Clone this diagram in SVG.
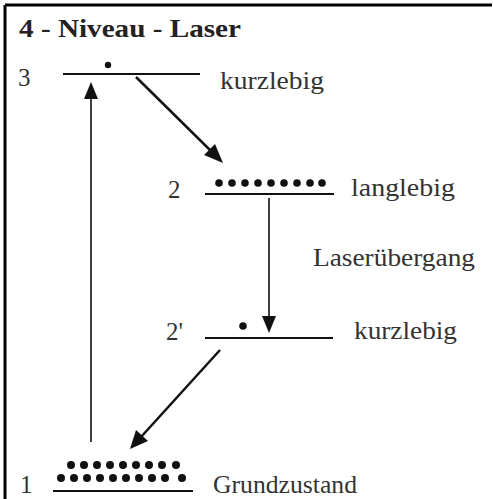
<svg xmlns="http://www.w3.org/2000/svg" width="493" height="499" viewBox="0 0 493 499">
  <style>
    .t { font-family: "Liberation Serif", "Times New Roman", serif; font-size: 26px; fill: #333; }
    .num { font-family: "Liberation Serif", "Times New Roman", serif; font-size: 25px; fill: #333; }
    .title { font-family: "Liberation Serif", "Times New Roman", serif; font-size: 26px; font-weight: bold; fill: #222; }
    .lvl { stroke: #111; stroke-width: 2.2; }
    .conn { stroke: #111; stroke-width: 2.5; fill: none; }
    .thin { stroke: #111; stroke-width: 1.6; fill: none; }
    .dot { fill: #111; }
    .head { fill: #111; }
  </style>

  <rect width="493" height="499" fill="#fff"/>
  <!-- frame: top and left edges -->
  <path d="M5,5 H492 M5,5 V499" stroke="#000" stroke-width="3" fill="none"/>

  <text class="title" x="19" y="37" textLength="222" lengthAdjust="spacingAndGlyphs">4 - Niveau - Laser</text>

  <g id="level3">
    <text class="num" x="18" y="86">3</text>
    <line class="lvl" x1="63" y1="74" x2="200" y2="74"/>
    <circle class="dot" cx="108" cy="65" r="3.2"/>
    <text class="t" x="220" y="89" textLength="104" lengthAdjust="spacingAndGlyphs">kurzlebig</text>
  </g>

  <g id="level2">
    <text class="num" x="168" y="198">2</text>
    <line class="lvl" x1="205" y1="194" x2="334" y2="194"/>
    <g class="dot">
      <circle cx="219" cy="183" r="3.8"/><circle cx="232" cy="183" r="3.8"/>
      <circle cx="245" cy="183" r="3.8"/><circle cx="258" cy="183" r="3.8"/>
      <circle cx="271" cy="183" r="3.8"/><circle cx="284" cy="183" r="3.8"/>
      <circle cx="297" cy="183" r="3.8"/><circle cx="310" cy="183" r="3.8"/>
      <circle cx="322" cy="183" r="3.8"/>
    </g>
    <text class="t" x="351" y="196" textLength="104" lengthAdjust="spacingAndGlyphs">langlebig</text>
  </g>

  <g id="level2p">
    <text class="num" x="166" y="340">2'</text>
    <line class="lvl" x1="205" y1="338" x2="333" y2="338"/>
    <circle class="dot" cx="243" cy="326" r="3.8"/>
    <text class="t" x="354" y="339" textLength="103" lengthAdjust="spacingAndGlyphs">kurzlebig</text>
  </g>

  <g id="level1">
    <text class="num" x="20" y="493">1</text>
    <line class="lvl" x1="53" y1="491" x2="193" y2="491"/>
    <g class="dot">
      <circle cx="71" cy="465" r="4"/><circle cx="84" cy="465" r="4"/>
      <circle cx="97" cy="465" r="4"/><circle cx="110" cy="465" r="4"/>
      <circle cx="123" cy="465" r="4"/><circle cx="136" cy="465" r="4"/>
      <circle cx="149" cy="465" r="4"/><circle cx="162" cy="465" r="4"/>
      <circle cx="176" cy="465" r="4"/>
      <circle cx="61" cy="478" r="4"/><circle cx="74" cy="478" r="4"/>
      <circle cx="87" cy="478" r="4"/><circle cx="100" cy="478" r="4"/>
      <circle cx="113" cy="478" r="4"/><circle cx="126" cy="478" r="4"/>
      <circle cx="139" cy="478" r="4"/><circle cx="152" cy="478" r="4"/>
      <circle cx="165" cy="478" r="4"/><circle cx="182" cy="478" r="4"/>
    </g>
    <text class="t" x="213" y="493" textLength="144" lengthAdjust="spacingAndGlyphs">Grundzustand</text>
  </g>

  <text class="t" x="313" y="266" textLength="162" lengthAdjust="spacingAndGlyphs">Laserübergang</text>

  <g id="connectors">
    <!-- pump: 1 -> 3 -->
    <line class="thin" x1="91" y1="442" x2="91" y2="97"/>
    <path class="head" d="M91,82 L84,99 L98,99 z"/>
    <!-- decay: 3 -> 2 -->
    <line class="conn" x1="136" y1="77" x2="212" y2="152"/>
    <path class="head" d="M223,163 L204,155 L215,144 z"/>
    <!-- laser transition: 2 -> 2' -->
    <line class="thin" x1="269" y1="198" x2="269" y2="318"/>
    <path class="head" d="M269,333 L262,316 L276,316 z"/>
    <!-- decay: 2' -> 1 -->
    <line class="conn" x1="220" y1="350" x2="141" y2="437"/>
    <path class="head" d="M130,449 L136,430 L148,441 z"/>
  </g>
</svg>
